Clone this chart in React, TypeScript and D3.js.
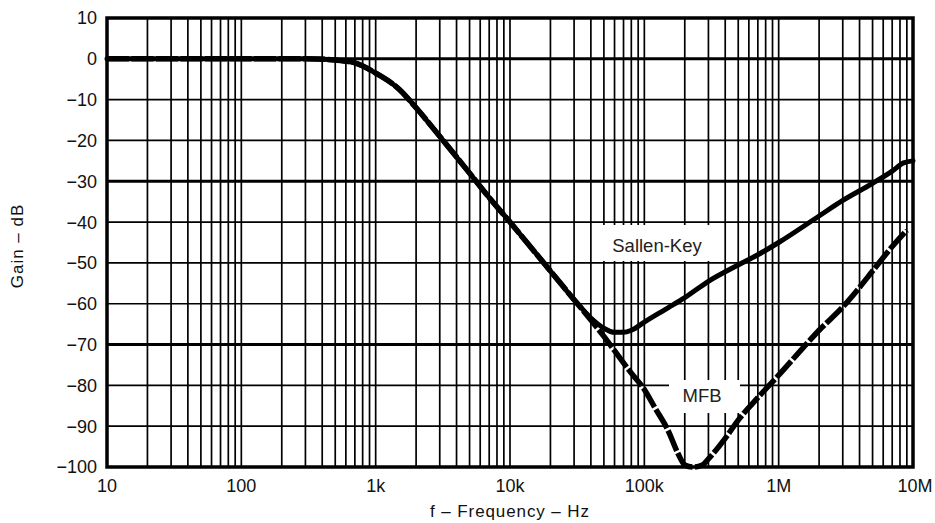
import React from "react";
import * as d3 from "d3";

const freqSK = [10, 100, 300, 500, 700, 1000, 1500, 2000, 3000, 5000, 7000, 10000, 15000, 20000, 30000, 40000, 50000, 60000, 70000, 80000, 100000, 150000, 200000, 300000, 500000, 700000, 1e6, 2e6, 3e6, 5e6, 7e6, 8.5e6, 1e7];
const gainSK = [0, 0, 0, -0.3, -1, -3.5, -7.5, -12, -19, -28, -34, -40, -47, -52, -59, -63.5, -66, -67, -67, -66.5, -64.5, -61, -58.5, -54.5, -50.5, -48, -45, -38.5, -34.7, -30.5, -27.5, -25.5, -25];

const freqMFB = [10, 100, 300, 500, 700, 1000, 1500, 2000, 3000, 5000, 7000, 10000, 15000, 20000, 30000, 40000, 50000, 60000, 70000, 80000, 100000, 120000, 150000, 180000, 200000, 230000, 270000, 300000, 400000, 500000, 700000, 1e6, 1.5e6, 2e6, 3e6, 4e6, 5e6, 7e6, 9e6];
const gainMFB = [0, 0, 0, -0.3, -1, -3.5, -7.5, -12, -19, -28, -34, -40, -47, -52, -59, -64, -68, -71.5, -74.5, -77, -81, -85.5, -91, -97, -99.5, -100, -99.5, -98, -93, -88.5, -83, -77.5, -71, -66.5, -60.8, -56, -52, -46, -42];

const xTickValues = [10, 100, 1000, 10000, 100000, 1e6, 1e7];
const xTickLabels = ["10", "100", "1k", "10k", "100k", "1M", "10M"];
const yTickValues = [10, 0, -10, -20, -30, -40, -50, -60, -70, -80, -90, -100];
const thickY = [0, -30, -70];

const FONT = "'Liberation Sans', Arial, Helvetica, sans-serif";

export default function App() {
  const W = 935, H = 523;
  const L = 107, R = 913, T = 18, B = 467;
  const x = d3.scaleLog().domain([10, 1e7]).range([L, R]);
  const y = d3.scaleLinear().domain([-100, 10]).range([B, T]);

  const minorX: number[] = [];
  for (let d = 10; d < 1e7; d *= 10) {
    for (let m = 1; m <= 9; m++) minorX.push(d * m);
  }
  minorX.push(1e7);

  const line = d3
    .line<[number, number]>()
    .x((d) => x(d[0]))
    .y((d) => y(d[1]))
    .curve(d3.curveMonotoneX);

  const skPts = freqSK.map((f, i) => [f, gainSK[i]] as [number, number]);
  const mfbPts = freqMFB.map((f, i) => [f, gainMFB[i]] as [number, number]);

  const fmt = (v: number) => (v < 0 ? "\u2212" + Math.abs(v) : String(v));

  return (
    <svg width={W} height={H} style={{ position: "absolute", left: 0, top: 0, background: "#fff" }} fontFamily={FONT}>
      <rect x={0} y={0} width={W} height={H} fill="#fff" />
      {minorX.map((f, i) => (
        <line key={"vx" + i} x1={x(f)} x2={x(f)} y1={T} y2={B} stroke="#000" strokeWidth={1.7} />
      ))}
      {yTickValues.map((v) => (
        <line key={"hy" + v} x1={L} x2={R} y1={y(v)} y2={y(v)} stroke="#000" strokeWidth={thickY.includes(v) ? 3 : 1.7} />
      ))}
      <rect x={597} y={225} width={123} height={36} fill="#fff" />
      <rect x={669} y={380} width={71} height={33} fill="#fff" />
      <rect x={L} y={T} width={R - L} height={B - T} fill="none" stroke="#000" strokeWidth={3.5} />
      <path d={line(mfbPts) || ""} fill="none" stroke="#000" strokeWidth={5.5} strokeDasharray="22,2.5" strokeLinejoin="round" />
      <path d={line(skPts) || ""} fill="none" stroke="#000" strokeWidth={5} strokeLinejoin="round" strokeLinecap="round" />
      <text x={657} y={252} fontSize={18.5} textAnchor="middle" fill="#222">Sallen-Key</text>
      <text x={702} y={402} fontSize={18.5} textAnchor="middle" fill="#222">MFB</text>
      {yTickValues.map((v) => (
        <text key={"yl" + v} x={97} y={y(v)} dy="0.36em" fontSize={18} textAnchor="end" fill="#111">
          {fmt(v)}
        </text>
      ))}
      {xTickValues.map((v, i) => (
        <text key={"xl" + v} x={x(v) + (i === xTickValues.length - 1 ? 2 : 0)} y={492} fontSize={18} textAnchor="middle" fill="#111">
          {xTickLabels[i]}
        </text>
      ))}
      <text x={510} y={517} fontSize={17} letterSpacing={0.9} textAnchor="middle" fill="#111">
        f – Frequency – Hz
      </text>
      <text transform="translate(23,246) rotate(-90)" fontSize={17} letterSpacing={1} textAnchor="middle" fill="#111">
        Gain – dB
      </text>
    </svg>
  );
}
